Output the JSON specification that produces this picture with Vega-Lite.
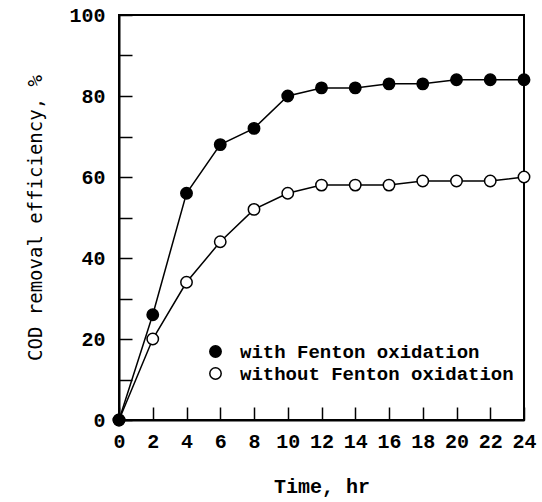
{
  "$schema": "https://vega.github.io/schema/vega-lite/v6.json",
  "autosize": "none",
  "width": 405,
  "height": 405,
  "padding": {"left": 119, "top": 15, "right": 18, "bottom": 82},
  "background": "white",
  "config": {
    "view": {"stroke": "black", "strokeWidth": 2},
    "axis": {
      "grid": false,
      "domainColor": "black",
      "domainWidth": 2,
      "tickColor": "black",
      "tickWidth": 1.5,
      "labelColor": "black",
      "labelFont": "Liberation Mono",
      "labelFontWeight": "bold",
      "labelFontSize": 20,
      "titleColor": "black"
    }
  },
  "data": {
    "values": [
      {"t": 0, "cod": 0, "series": "without Fenton oxidation"},
      {"t": 2, "cod": 20, "series": "without Fenton oxidation"},
      {"t": 4, "cod": 34, "series": "without Fenton oxidation"},
      {"t": 6, "cod": 44, "series": "without Fenton oxidation"},
      {"t": 8, "cod": 52, "series": "without Fenton oxidation"},
      {"t": 10, "cod": 56, "series": "without Fenton oxidation"},
      {"t": 12, "cod": 58, "series": "without Fenton oxidation"},
      {"t": 14, "cod": 58, "series": "without Fenton oxidation"},
      {"t": 16, "cod": 58, "series": "without Fenton oxidation"},
      {"t": 18, "cod": 59, "series": "without Fenton oxidation"},
      {"t": 20, "cod": 59, "series": "without Fenton oxidation"},
      {"t": 22, "cod": 59, "series": "without Fenton oxidation"},
      {"t": 24, "cod": 60, "series": "without Fenton oxidation"},
      {"t": 0, "cod": 0, "series": "with Fenton oxidation"},
      {"t": 2, "cod": 26, "series": "with Fenton oxidation"},
      {"t": 4, "cod": 56, "series": "with Fenton oxidation"},
      {"t": 6, "cod": 68, "series": "with Fenton oxidation"},
      {"t": 8, "cod": 72, "series": "with Fenton oxidation"},
      {"t": 10, "cod": 80, "series": "with Fenton oxidation"},
      {"t": 12, "cod": 82, "series": "with Fenton oxidation"},
      {"t": 14, "cod": 82, "series": "with Fenton oxidation"},
      {"t": 16, "cod": 83, "series": "with Fenton oxidation"},
      {"t": 18, "cod": 83, "series": "with Fenton oxidation"},
      {"t": 20, "cod": 84, "series": "with Fenton oxidation"},
      {"t": 22, "cod": 84, "series": "with Fenton oxidation"},
      {"t": 24, "cod": 84, "series": "with Fenton oxidation"}
    ]
  },
  "encoding": {
    "x": {
      "field": "t",
      "type": "quantitative",
      "scale": {"domain": [0, 24], "nice": false, "zero": false},
      "axis": {
        "title": "Time, hr",
        "titleFont": "Liberation Mono",
        "titleFontWeight": "bold",
        "titleFontSize": 20,
        "titlePadding": 25,
        "values": [0, 2, 4, 6, 8, 10, 12, 14, 16, 18, 20, 22, 24],
        "tickSize": -13,
        "labelPadding": 24,
        "labelFlush": false,
        "labelOverlap": false
      }
    },
    "y": {
      "field": "cod",
      "type": "quantitative",
      "scale": {"domain": [0, 100], "nice": false},
      "axis": {
        "title": "COD removal efficiency, %",
        "titleFont": "DejaVu Sans Mono",
        "titleFontWeight": "normal",
        "titleFontSize": 19,
        "titlePadding": 23,
        "values": [0, 10, 20, 30, 40, 50, 60, 70, 80, 90, 100],
        "labelExpr": "datum.value % 20 === 0 ? datum.label : ''",
        "tickSize": -13,
        "labelPadding": 27,
        "labelFlush": false,
        "labelOverlap": false,
        "encode": {"ticks": {"update": {"x2": {"signal": "datum.value % 20 === 0 ? 13 : 7"}}}}
      }
    }
  },
  "layer": [
    {
      "mark": {"type": "line", "color": "black", "strokeWidth": 1.5},
      "encoding": {"detail": {"field": "series"}}
    },
    {
      "mark": {"type": "point", "shape": "circle", "filled": false, "stroke": "black", "strokeWidth": 1.5, "size": 130, "opacity": 1, "fillOpacity": 1},
      "encoding": {
        "fill": {
          "field": "series",
          "type": "nominal",
          "scale": {"domain": ["with Fenton oxidation", "without Fenton oxidation"], "range": ["black", "white"]},
          "legend": {
            "title": null,
            "orient": "none",
            "legendX": 87,
            "legendY": 327,
            "padding": 0,
            "labelFont": "Liberation Mono",
            "labelFontWeight": "bold",
            "labelFontSize": 19,
            "labelColor": "black",
            "labelLimit": 0,
            "labelOffset": 15,
            "rowPadding": 2,
            "symbolType": "circle",
            "symbolSize": 130,
            "symbolStrokeColor": "black",
            "symbolStrokeWidth": 1.5
          }
        }
      }
    }
  ]
}
